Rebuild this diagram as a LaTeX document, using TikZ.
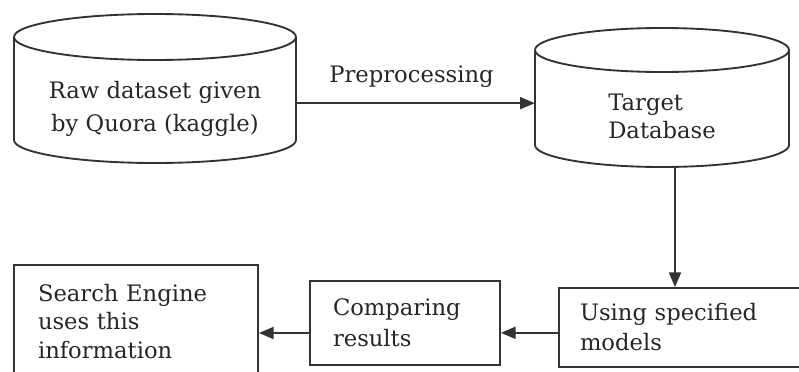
\documentclass[tikz,border=0pt]{standalone}
\usepackage{fontspec}
\setmainfont{DejaVu Serif}
\usetikzlibrary{arrows.meta}
\begin{document}
\begin{tikzpicture}[x=0.75pt,y=-0.75pt,
  line/.style={draw=black!80, line width=1.4pt},
  arr/.style={line, -{Triangle[length=11pt,width=9pt]}},
  txt/.style={text=black!85, font=\fontsize{17}{21}\selectfont},
  box/.style={line, txt, rectangle, align=left, inner ysep=0pt},
]
\clip (0,0) rectangle (799,371);
% cylinders
\draw[line] (14,37) -- (14,140) arc[start angle=180,end angle=360,x radius=105.75pt,y radius=17.25pt] -- (296,37);
\draw[line] (155,37) ellipse[x radius=105.75pt,y radius=17.25pt];
\draw[line] (535,50) -- (535,145) arc[start angle=180,end angle=360,x radius=95.25pt,y radius=16.5pt] -- (789,50);
\draw[line] (662,50) ellipse[x radius=95.25pt,y radius=16.5pt];
% cylinder texts
\node[txt, align=center, minimum width=211.5pt, inner sep=0pt, font=\fontsize{17}{24.75}\selectfont] (raw) at (155,108.5) {Raw dataset given\\by Quora (kaggle)};
\node[txt, align=left, minimum width=190.5pt, minimum height=76.5pt, inner sep=0pt] (tgt) at (662,116) {Target\\Database};
% boxes
\node[box, text width=147pt, inner xsep=18pt, minimum width=183pt, minimum height=84.75pt, font=\fontsize{17}{21.4}\selectfont] (srch) at (136,321.5) {Search Engine\\uses this\\information};
\node[box, text width=108pt, inner xsep=17.25pt, minimum width=142.5pt, minimum height=63pt, font=\fontsize{17}{23.25}\selectfont] (cmp) at (405,323) {Comparing\\results};
\node[box, text width=160.5pt, inner xsep=15.75pt, minimum width=192pt, minimum height=59.25pt, font=\fontsize{17}{22.5}\selectfont] (use) at (687,327.5) {Using specified\\models};
% connectors
\draw[arr] ([yshift=4pt]raw.east) coordinate (p) -- (p -| tgt.west)
  node[midway, txt, yshift=19.5pt, xshift=-3pt] {Preprocessing};
\draw[arr] ([xshift=9.75pt]tgt.south) coordinate (v) -- (v |- use.north);
\draw[arr] ([yshift=-4pt]use.west) coordinate (q) -- (q -| cmp.east);
\draw[arr] ([yshift=-7.5pt]cmp.west) coordinate (r) -- (r -| srch.east);
\end{tikzpicture}
\end{document}
